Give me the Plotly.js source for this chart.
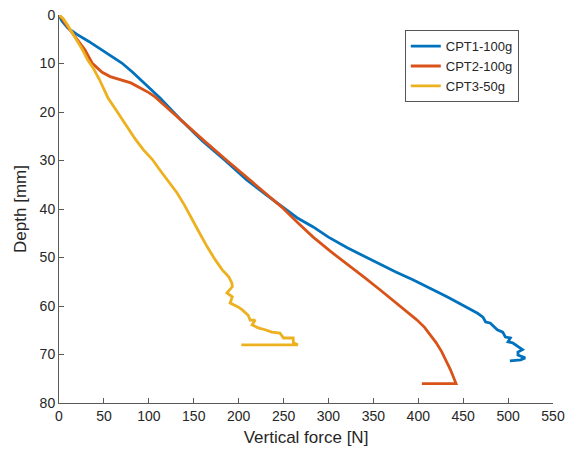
<!DOCTYPE html>
<html>
<head>
<meta charset="utf-8">
<script src="https://cdn.plot.ly/plotly-3.0.1.min.js"></script>
<style>html,body{margin:0;padding:0;background:#fff;}#chart{width:572px;height:452px;}</style>
</head>
<body>
<div id="chart"></div>
<script>
// CPT1-100g
const cpt1Force = [0,3,10,20,32.7,45,57,70,82,95,107,112.5,135,160,185,209,230,246,265,283,300,321,340,357.7,375,394,412,432,447,458,466,472,475,480,488,494,497,502.5,500,505,511,516,511,511,519,514,502];
const cpt1Depth = [0,1.2,2.7,4.0,5.4,6.9,8.3,9.9,11.8,14,16.1,17.1,21.5,26,30,34,37,39.2,41.8,43.7,45.8,48,49.8,51.5,53,54.6,56.2,58.1,59.6,60.7,61.5,62.3,63.3,63.5,64.9,65.4,66.4,66.6,67.4,67.6,68.4,69,69.5,70.1,70.7,71.1,71.3];
// CPT2-100g
const cpt2Force = [0,3,8,14.5,22,29,36.8,42,48,57,70,80,90,100,107,113,137,162,187,211,232,248,265,283,302,321,340,357.7,372,386,398,407,414,420,426,431,435.5,439,441.5,442,404];
const cpt2Depth = [0,0.6,2,3.7,5.5,7.2,9.9,10.8,11.8,12.7,13.4,14,15,16,16.9,17.9,21.8,26,30,33.8,37,39.6,42.7,45.8,48.7,51.5,54.1,56.7,58.8,60.9,62.8,64.4,66,67.6,69.4,71.2,73,74.6,75.8,76,76];
// CPT3-50g
const cpt3Force = [0,5,10,17.8,25,32,38,45,54.6,65,75.5,85,94,104,112.5,122,131.5,140,148,156,165,174,182,189,192.5,193,187,193,190.5,199.4,204,210.6,212.8,218.4,215,221.7,229.5,237,246,250,260.7,261,266,203];
const cpt3Depth = [0,0.8,2.2,4.5,6.8,9.3,10.9,13.3,17.1,20,23,25.6,27.8,29.8,32,34.3,36.7,39.3,41.9,44.8,47.8,50.5,52.6,54,55.3,56,57.3,58.1,59.4,60.2,60.8,61.9,62.9,62.9,63.9,64.5,64.9,65.4,65.6,66.6,66.6,67.6,68,68];

const seriesNames = ['CPT1-100g','CPT2-100g','CPT3-50g'];
const colors = ['#0072BD','#D95319','#EDB120'];
const xs = [cpt1Force, cpt2Force, cpt3Force];
const ys = [cpt1Depth, cpt2Depth, cpt3Depth];

const traces = seriesNames.map((n,i)=>({
  x: xs[i], y: ys[i], name: n, type: 'scatter', mode: 'lines',
  line: {color: colors[i], width: 2.8}
}));

const FONT = 'Liberation Sans, Arial, sans-serif';
const axisCommon = {
  showgrid: false, zeroline: false, showline: true, linecolor: '#5a5a5a', linewidth: 1,
  ticks: 'inside', ticklen: 5, tickcolor: '#5a5a5a', mirror: false,
  tickfont: {family: FONT, size: 14, color: '#262626'}
};

const layout = {
  width: 572, height: 452,
  margin: {l: 59, r: 19, t: 15, b: 49},
  paper_bgcolor: '#fff', plot_bgcolor: '#fff',
  showlegend: true,
  legend: {x: 0.700, y: 0.961, xanchor: 'left', yanchor: 'top',
    bgcolor: '#fff', bordercolor: '#555', borderwidth: 1,
    font: {family: FONT, size: 13, color: '#262626'},
    tracegroupgap: 0, itemwidth: 30},
  xaxis: Object.assign({}, axisCommon, {range: [0, 550], dtick: 50, tick0: 0,
    title: {text: 'Vertical force [N]', standoff: 8, font: {family: FONT, size: 17, color: '#262626'}}}),
  yaxis: Object.assign({}, axisCommon, {range: [80, 0], dtick: 10, tick0: 0,
    title: {text: 'Depth [mm]', standoff: 8, font: {family: FONT, size: 17, color: '#262626'}}})
};

Plotly.newPlot('chart', traces, layout, {displayModeBar: false, staticPlot: true});
</script>
</body>
</html>
